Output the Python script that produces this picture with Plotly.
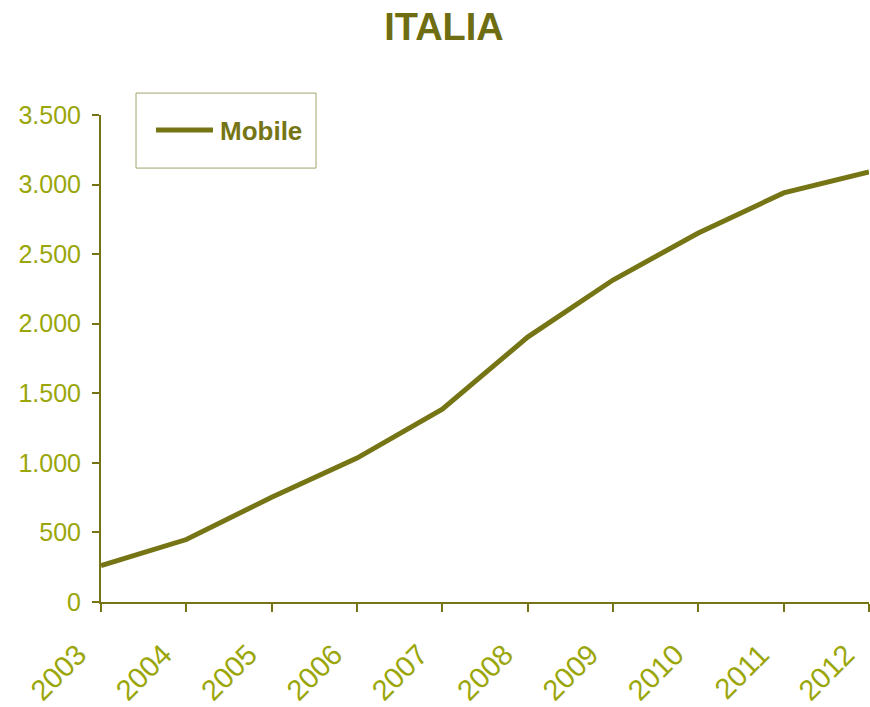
import plotly.graph_objects as go

years = ["2003", "2004", "2005", "2006", "2007", "2008", "2009", "2010", "2011", "2012"]
mobile = [262, 449, 753, 1034, 1386, 1904, 2314, 2652, 2940, 3091]
y_ticks = [0, 500, 1000, 1500, 2000, 2500, 3000, 3500]
series_name = "Mobile"

OLIVE = "#767516"
TICK = "#9aa60a"

fig = go.Figure()
fig.add_trace(go.Scatter(
    x=years, y=mobile, mode="lines", name=series_name,
    line=dict(color=OLIVE, width=5), showlegend=False,
))

fig.update_layout(
    width=870, height=707,
    paper_bgcolor="white", plot_bgcolor="white",
    separators=",.",
    font=dict(family="Liberation Sans, Arial, sans-serif"),
    title=dict(text="<b>ITALIA</b>", x=444 / 870, xanchor="center", xref="container",
               y=1 - 27 / 707, yanchor="middle", yref="container",
               font=dict(size=38, color="#6e6d12")),
    margin=dict(l=101, r=1, t=115, b=105),
    showlegend=False,
)

# legend box drawn manually
fig.add_shape(type="rect", xref="paper", yref="paper",
              x0=0.0456, x1=0.28, y0=0.891, y1=1.045,
              line=dict(color="#a3a36e", width=1), fillcolor="white", layer="above")
fig.add_shape(type="line", xref="paper", yref="paper",
              x0=0.0716, x1=0.1458, y0=0.969, y1=0.969,
              line=dict(color=OLIVE, width=5), layer="above")
fig.add_annotation(xref="paper", yref="paper", x=0.1525, y=0.968,
                   xanchor="left", yanchor="middle", showarrow=False,
                   text="<b>" + series_name + "</b>",
                   font=dict(size=26, color=OLIVE))

fig.update_xaxes(
    type="category", range=[0, 9], automargin=False,
    showgrid=False, zeroline=False,
    showline=True, linecolor=OLIVE, linewidth=2,
    ticks="outside", ticklen=8, tickwidth=2, tickcolor=OLIVE,
    tickangle=-45, tickfont=dict(size=29, color=TICK),
    ticklabelstandoff=14, ticklabelshift=-23,
)
fig.update_yaxes(
    range=[0, 3500], tickvals=y_ticks, tickformat=",d", automargin=False,
    showgrid=False, zeroline=False,
    showline=True, linecolor=OLIVE, linewidth=2,
    ticks="outside", ticklen=7, tickwidth=2, tickcolor=OLIVE,
    tickfont=dict(size=25, color=TICK), ticklabelstandoff=6,
)

fig.write_html("out.html", config={"displayModeBar": False},
               post_script="document.body.style.margin='0px';document.body.style.overflow='hidden';")
